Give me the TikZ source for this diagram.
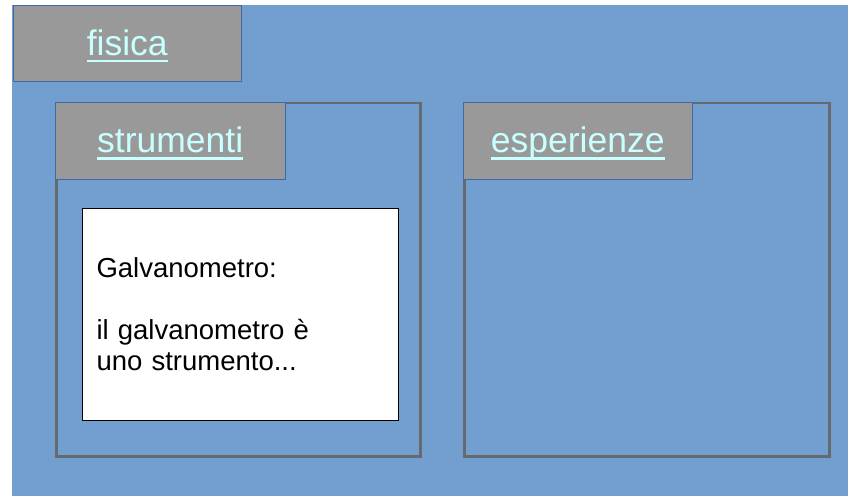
\documentclass[tikz,border=0pt]{standalone}
\usepackage{fontspec}
\setmainfont{Liberation Sans}
\usetikzlibrary{positioning}
\definecolor{sfondo}{RGB}{114,159,207}
\definecolor{grigiotab}{RGB}{153,153,153}
\definecolor{bordotab}{RGB}{62,105,165}
\definecolor{bordocornice}{RGB}{100,106,112}
\definecolor{ciano}{RGB}{200,255,255}
% testo sottolineato come un collegamento
\newcommand\collegamento[1]{\setbox0\hbox{#1}\rlap{\rule[-7.25pt]{\wd0}{2.5pt}}\box0}

\tikzset{
  tab/.style={rectangle, anchor=north west, draw=bordotab, fill=grigiotab, thin,
    text=ciano, text height=28pt, text depth=4pt, font=\fontsize{35.5}{40}\selectfont},
  cornice/.style={rectangle, anchor=north west, draw=bordocornice, line width=2.5pt},
  scheda/.style={rectangle, anchor=north west, draw=black, fill=white, line width=1pt,
    align=left, inner xsep=14pt, font=\fontsize{27.5}{31}\selectfont}
}

\begin{document}
\begin{tikzpicture}[x=1pt, y=-1pt, inner sep=0pt]
\useasboundingbox (0,0) rectangle (853,497);
\fill[sfondo] (12,5) rectangle (848,496);
% cornici
\node (strum) at (55,102) [cornice, minimum width=364, minimum height=353] {};
\node (esper) at (463,102) [cornice, minimum width=365, minimum height=353] {};
% linguette
\node (fisica) at (13,5) [tab, minimum width=228, minimum height=76] {\collegamento{fisica}};
\node (strumtab) at (55,102) [tab, minimum width=230, minimum height=77] {\collegamento{strumenti}};
\node (espertab) at (463,102) [tab, minimum width=229, minimum height=77] {\collegamento{esperienze}};
% scheda
\node (galv) at (82,208) [scheda, text width=288, minimum height=212]
  {Galvanometro:\\[31pt]il galvanometro è\\uno strumento...};
\end{tikzpicture}
\end{document}
